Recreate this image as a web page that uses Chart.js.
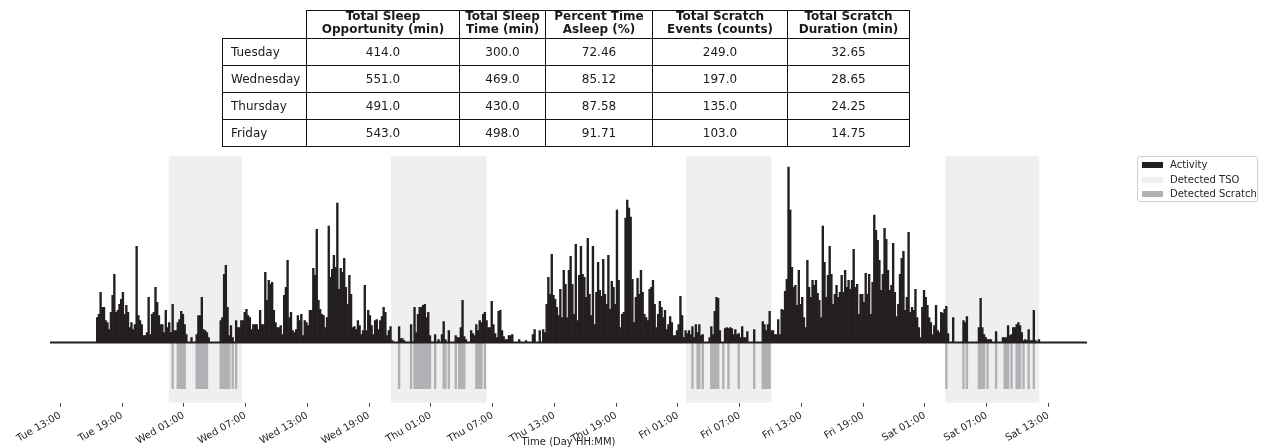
<!DOCTYPE html>
<html>
<head>
<meta charset="utf-8">
<script src="https://cdn.jsdelivr.net/npm/chart.js@4.4.1/dist/chart.umd.min.js"></script>
<style>
  html, body { margin:0; padding:0; background:#fff; width:1261px; height:447px; overflow:hidden; }
  #wrap { position:absolute; left:0; top:0; width:1261px; height:448px; }
  #tbl { position:absolute; left:222px; top:10px; border-collapse:collapse; table-layout:fixed;
         font-family:"DejaVu Sans"; font-size:12px; color:#1a1a1a; }
  #tbl th, #tbl td { border:1px solid #111; padding:0; text-align:center; white-space:pre; }
  #tbl th { font-weight:bold; line-height:13px; height:27px; vertical-align:middle; }
  #tbl th span { position:relative; top:-2px; }
  #tbl td { height:26px; }
  #tbl td.rl { text-align:left; padding-left:8px; }
  #tbl th.corner { border:none; }
  #legend { position:absolute; left:1137px; top:156px; width:121px; height:46px; box-sizing:border-box;
            border:1px solid #d0d0d0; border-radius:3px; font-family:"DejaVu Sans"; font-size:10px; color:#262626; }
  .li { position:absolute; left:4px; height:12px; line-height:12px; white-space:nowrap; }
  .sw { position:absolute; left:0; top:3px; width:21px; height:6px; }
  .lt { position:absolute; left:28px; top:0; }
</style>
</head>
<body>
<div id="wrap"><canvas id="c" width="1261" height="448"></canvas></div>
<table id="tbl"></table>
<div id="legend"></div>
<script>
// ---------- table data ----------
const tableRowLabels = ['Tuesday', 'Wednesday', 'Thursday', 'Friday'];
const tableHeaders = ['Total Sleep\nOpportunity (min)', 'Total Sleep\nTime (min)', 'Percent Time\nAsleep (%)',
                      'Total Scratch\nEvents (counts)', 'Total Scratch\nDuration (min)'];
const sleepOpportunity = [414.0, 551.0, 491.0, 543.0];
const sleepTime = [300.0, 469.0, 430.0, 498.0];
const percentAsleep = [72.46, 85.12, 87.58, 91.71];
const scratchEvents = [249.0, 197.0, 135.0, 103.0];
const scratchDuration = [32.65, 28.65, 24.25, 14.75];

// ---------- time axis ----------
const dayNames = ['Tue', 'Wed', 'Thu', 'Fri', 'Sat'];
const xTickLabels = ['Tue 13:00', 'Tue 19:00', 'Wed 01:00', 'Wed 07:00', 'Wed 13:00', 'Wed 19:00',
                     'Thu 01:00', 'Thu 07:00', 'Thu 13:00', 'Thu 19:00', 'Fri 01:00', 'Fri 07:00',
                     'Fri 13:00', 'Fri 19:00', 'Sat 01:00', 'Sat 07:00', 'Sat 13:00'];
const xRange = ['Tue 12:00', 'Sat 16:45'];

// ---------- activity (10-minute bins starting Tue 16:30) ----------
const activityStart = 'Tue 16:30';
const activityBinMinutes = 10;
const activity = [
  25, 28, 50, 35, 35, 22, 20, 13, 30, 47,
  68, 30, 32, 38, 43, 50, 28, 37, 30, 15,
  20, 13, 18, 96, 27, 22, 18, 7, 7, 10,
  45, 8, 28, 30, 55, 40, 27, 18, 18, 10,
  32, 15, 20, 10, 38, 12, 12, 20, 23, 31,
  28, 18, 8, 0, 0, 5, 0, 0, 8, 27,
  27, 45, 13, 12, 10, 5, 0, 0, 0, 0,
  0, 0, 22, 25, 68, 77, 35, 7, 17, 5,
  0, 22, 15, 15, 22, 22, 30, 33, 27, 25,
  13, 18, 18, 18, 13, 32, 18, 18, 70, 42,
  62, 58, 60, 32, 20, 15, 15, 17, 8, 47,
  55, 82, 25, 30, 12, 10, 13, 27, 22, 28,
  7, 22, 20, 17, 32, 32, 74, 67, 113, 42,
  33, 28, 27, 15, 25, 116, 65, 73, 87, 75,
  139, 53, 74, 70, 84, 55, 38, 67, 48, 15,
  16, 13, 22, 17, 8, 12, 57, 12, 32, 27,
  17, 8, 22, 23, 13, 22, 26, 35, 30, 7,
  12, 16, 2, 0, 0, 0, 16, 4, 4, 2,
  0, 0, 0, 18, 0, 35, 10, 28, 35, 35,
  37, 38, 25, 30, 7, 0, 0, 8, 0, 3,
  0, 8, 21, 3, 0, 12, 0, 0, 0, 7,
  5, 5, 15, 42, 6, 3, 0, 0, 12, 9,
  7, 18, 12, 22, 20, 28, 30, 22, 15, 15,
  41, 18, 9, 5, 31, 32, 12, 6, 3, 3,
  7, 7, 8, 0, 0, 0, 3, 0, 0, 0,
  2, 0, 0, 0, 8, 13, 0, 0, 12, 0,
  13, 10, 38, 65, 48, 88, 47, 43, 35, 27,
  53, 25, 72, 58, 25, 72, 86, 58, 28, 98,
  22, 67, 96, 68, 65, 45, 104, 48, 27, 96,
  18, 50, 80, 52, 46, 83, 48, 38, 87, 33,
  61, 55, 38, 132, 62, 15, 28, 30, 124, 142,
  134, 125, 63, 20, 45, 64, 48, 72, 50, 28,
  25, 22, 53, 55, 62, 38, 15, 28, 41, 35,
  25, 32, 13, 18, 26, 20, 7, 7, 12, 18,
  46, 27, 5, 12, 9, 12, 8, 16, 5, 18,
  10, 18, 7, 8, 0, 0, 0, 5, 16, 8,
  31, 45, 44, 12, 0, 0, 14, 15, 14, 15,
  14, 8, 13, 8, 9, 5, 16, 5, 5, 11,
  0, 0, 0, 13, 0, 0, 0, 0, 21, 18,
  12, 18, 31, 12, 12, 8, 8, 23, 8, 33,
  32, 51, 63, 175, 132, 75, 55, 57, 37, 72,
  38, 45, 25, 15, 82, 55, 45, 62, 57, 62,
  49, 42, 25, 116, 80, 45, 67, 96, 68, 38,
  48, 57, 45, 50, 67, 50, 72, 55, 62, 53,
  62, 93, 55, 58, 28, 48, 48, 40, 69, 48,
  68, 28, 60, 127, 112, 102, 82, 52, 68, 114,
  103, 72, 52, 57, 99, 50, 26, 38, 68, 84,
  91, 32, 45, 110, 30, 35, 32, 53, 25, 15,
  5, 35, 52, 45, 37, 25, 20, 8, 17, 37,
  12, 10, 30, 29, 33, 36, 9, 0, 0, 25,
  0, 0, 0, 0, 0, 22, 20, 26, 0, 0,
  0, 0, 0, 0, 15, 44, 15, 8, 5, 3,
  3, 3, 0, 0, 11, 0, 0, 0, 5, 5,
  5, 17, 7, 8, 15, 15, 18, 20, 17, 10,
  2, 3, 2, 13, 2, 2, 32, 2, 0, 3,
  0
];

// ---------- detected total sleep opportunity (TSO) ----------
const tsoStart = ['Tue 23:33', 'Wed 21:08', 'Fri 01:48', 'Sat 02:58'];
const tsoEnd   = ['Wed 06:39', 'Thu 06:26', 'Fri 10:04', 'Sat 12:06'];

// ---------- detected scratch episodes ----------
const scratchStart = ['Tue 23:50', 'Wed 00:20', 'Wed 02:10', 'Wed 04:30', 'Wed 05:40', 'Wed 06:00',
                      'Wed 21:50', 'Wed 23:00', 'Wed 23:20', 'Thu 01:20', 'Thu 02:10', 'Thu 02:40', 'Thu 03:20', 'Thu 03:40', 'Thu 05:20', 'Thu 06:10',
                      'Fri 02:20', 'Fri 02:50', 'Fri 03:20', 'Fri 04:10', 'Fri 05:20', 'Fri 05:50', 'Fri 06:50', 'Fri 08:20', 'Fri 09:10',
                      'Sat 03:00', 'Sat 04:40', 'Sat 05:00', 'Sat 06:10', 'Sat 07:00', 'Sat 07:50', 'Sat 08:40', 'Sat 09:20', 'Sat 09:50', 'Sat 10:30', 'Sat 11:00', 'Sat 11:30'];
const scratchMinutes = [10, 50, 70, 60, 10, 10,
                        10, 10, 100, 10, 20, 10, 10, 40, 40, 10,
                        10, 20, 10, 50, 10, 10, 10, 10, 50,
                        10, 10, 10, 40, 10, 10, 30, 10, 30, 10, 10, 10];
const scratchLevel = -46;

// ---------- legend ----------
const legendLabels = ['Activity', 'Detected TSO', 'Detected Scratch'];
const legendColors = ['#231f20', '#efefef', '#b1b1b5'];

// ================= helpers =================
function toMin(s) {
  const [d, t] = s.split(' ');
  const [h, m] = t.split(':').map(Number);
  return dayNames.indexOf(d) * 1440 + h * 60 + m;
}
function fmtMin(v) {
  const d = Math.floor(v / 1440), r = v - d * 1440;
  const h = Math.floor(r / 60), m = Math.round(r - h * 60);
  return dayNames[d] + ' ' + String(h).padStart(2, '0') + ':' + String(m).padStart(2, '0');
}

// ================= table =================
(function buildTable() {
  const tbl = document.getElementById('tbl');
  const widths = [84, 153, 86, 107, 135, 122];
  const cg = document.createElement('colgroup');
  widths.forEach(w => { const c = document.createElement('col'); c.style.width = w + 'px'; cg.appendChild(c); });
  tbl.appendChild(cg);
  const hr = document.createElement('tr');
  const corner = document.createElement('th'); corner.className = 'corner'; hr.appendChild(corner);
  tableHeaders.forEach(h => { const th = document.createElement('th'); const sp = document.createElement('span'); sp.textContent = h; th.appendChild(sp); hr.appendChild(th); });
  tbl.appendChild(hr);
  const cols = [[sleepOpportunity, 1], [sleepTime, 1], [percentAsleep, 2], [scratchEvents, 1], [scratchDuration, 2]];
  tableRowLabels.forEach((lab, i) => {
    const tr = document.createElement('tr');
    const td0 = document.createElement('td'); td0.className = 'rl'; td0.textContent = lab; tr.appendChild(td0);
    cols.forEach(([arr, dp]) => { const td = document.createElement('td'); td.textContent = arr[i].toFixed(dp); tr.appendChild(td); });
    tbl.appendChild(tr);
  });
})();

// ================= legend =================
(function buildLegend() {
  const lg = document.getElementById('legend');
  const tops = [2, 16.5, 31];
  legendLabels.forEach((lab, i) => {
    const d = document.createElement('div'); d.className = 'li'; d.style.top = tops[i] + 'px';
    const sw = document.createElement('div'); sw.className = 'sw'; sw.style.background = legendColors[i];
    const tx = document.createElement('span'); tx.className = 'lt'; tx.textContent = lab;
    d.appendChild(sw); d.appendChild(tx); lg.appendChild(d);
  });
})();

// ================= chart =================
Chart.defaults.font.family = 'DejaVu Sans';

const actStartMin = toMin(activityStart);
const activityPoints = activity.map((v, i) => ({ x: actStartMin + i * activityBinMinutes + activityBinMinutes / 2, y: v }));
const scratchPoints = [];
scratchStart.forEach((s, i) => {
  const s0 = toMin(s);
  for (let j = 0; j < scratchMinutes[i] / activityBinMinutes; j++) {
    scratchPoints.push({ x: s0 + j * activityBinMinutes + activityBinMinutes / 2, y: scratchLevel });
  }
});

const tsoPlugin = {
  id: 'tsoShade',
  beforeDatasetsDraw(chart) {
    const { ctx, chartArea, scales } = chart;
    ctx.save();
    ctx.fillStyle = legendColors[1];
    tsoStart.forEach((s, i) => {
      const x0 = scales.x.getPixelForValue(toMin(s));
      const x1 = scales.x.getPixelForValue(toMin(tsoEnd[i]));
      ctx.fillRect(x0, chartArea.top, x1 - x0, chartArea.bottom - chartArea.top);
    });
    ctx.restore();
  }
};
const baselinePlugin = {
  id: 'zeroLine',
  afterDatasetsDraw(chart) {
    const { ctx, chartArea, scales } = chart;
    const y = scales.y.getPixelForValue(0);
    ctx.save();
    ctx.strokeStyle = '#231f20';
    ctx.lineWidth = 2;
    ctx.beginPath();
    ctx.moveTo(chartArea.left, y);
    ctx.lineTo(chartArea.right, y);
    ctx.stroke();
    ctx.restore();
  }
};

new Chart(document.getElementById('c'), {
  type: 'bar',
  data: {
    datasets: [
      { label: legendLabels[0], data: activityPoints, backgroundColor: legendColors[0], borderWidth: 0,
        grouped: false, barPercentage: 1, categoryPercentage: 1, order: 1 },
      { label: legendLabels[2], data: scratchPoints, backgroundColor: legendColors[2], borderWidth: 0,
        grouped: false, barPercentage: 1, categoryPercentage: 1, order: 2 }
    ]
  },
  options: {
    responsive: false,
    animation: false,
    layout: { padding: { left: 50, right: 174, top: 156, bottom: 0 } },
    plugins: { legend: { display: false }, tooltip: { enabled: false } },
    scales: {
      x: {
        type: 'linear',
        offset: false,
        min: toMin(xRange[0]),
        max: toMin(xRange[1]),
        afterBuildTicks: ax => { ax.ticks = xTickLabels.map(l => ({ value: toMin(l) })); },
        ticks: { autoSkip: false, minRotation: 30, maxRotation: 30, padding: 3,
                 font: { size: 10 }, color: '#262626', callback: v => fmtMin(v) },
        grid: { offset: false, drawOnChartArea: false, tickLength: 4, color: '#444' },
        border: { display: false },
        title: { display: true, text: 'Time (Day HH:MM)', font: { size: 10 }, color: '#262626',
                 padding: { top: -14, bottom: 0 } }
      },
      y: { display: false, min: -60, max: 186 }
    }
  },
  plugins: [tsoPlugin, baselinePlugin]
});
</script>
</body>
</html>
